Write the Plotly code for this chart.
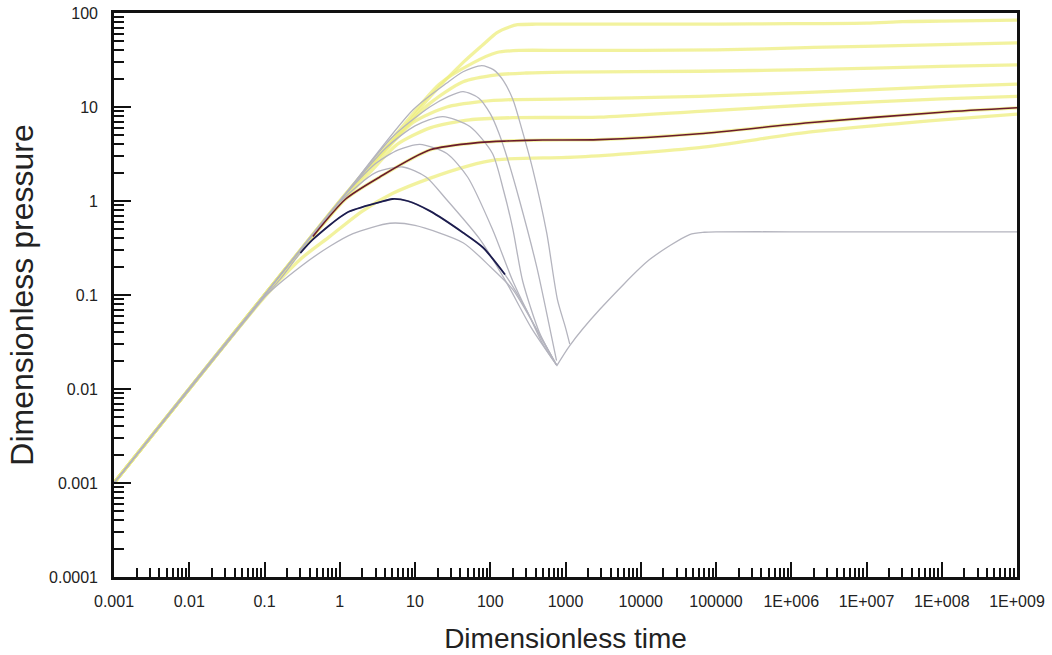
import plotly.graph_objects as go

# ---- pressure curves (yellow family) ----
t_y1 = [0.001, 0.01, 0.1, 1, 2, 5.8, 16, 44, 80, 123, 180, 230, 400, 1e3, 1e4, 1e5, 1e6, 1e7, 3e7, 1e8, 1e9]
p_y1 = [0.001, 0.01, 0.1, 1, 1.9, 4.9, 13, 30, 46, 62, 71, 75, 76, 76, 76, 76, 77, 78, 81, 82, 84]

t_y2 = [0.001, 0.1, 1, 5, 21, 59, 122, 250, 1e3, 1e5, 2e6, 1e8, 1e9]
p_y2 = [0.001, 0.1, 1, 4.6, 17.5, 29.5, 38, 40, 40, 40.5, 43, 46, 48]

t_y3 = [0.001, 0.1, 1, 5, 15.9, 43.6, 122, 300, 1e3, 6e4, 1.7e6, 1e8, 1e9]
p_y3 = [0.001, 0.1, 0.98, 4.3, 11, 18.6, 22, 23, 23.5, 24, 25, 27, 28]

t_y4 = [0.001, 0.1, 1, 3, 9.35, 26.5, 74, 200, 800, 6e4, 1.7e6, 1e8, 1e9]
p_y4 = [0.001, 0.1, 0.95, 2.6, 6.8, 10, 11.4, 12, 12.1, 13, 14.3, 16.5, 17.5]

t_y5 = [0.001, 0.1, 1, 2.5, 5.8, 15.9, 53, 200, 2800, 6e4, 1.7e6, 1e8, 1e9]
p_y5 = [0.001, 0.1, 0.92, 2.0, 4.0, 6.0, 7.3, 7.7, 7.8, 9, 10.5, 12.2, 13]

t_red = [0.001, 0.1, 0.3, 0.44, 1.2, 3.4, 15.9, 74, 166, 500, 2800, 6e4, 1.7e6, 1e8, 1e9]
p_red = [0.001, 0.1, 0.29, 0.42, 1.05, 1.8, 3.5, 4.2, 4.35, 4.45, 4.5, 5.2, 6.8, 8.8, 9.8]

t_y7 = [0.001, 0.1, 0.3, 0.74, 2, 5, 16, 50, 122, 1540, 6e4, 1.7e6, 1e8, 1e9]
p_y7 = [0.001, 0.095, 0.24, 0.42, 0.78, 1.2, 1.75, 2.35, 2.75, 2.95, 3.7, 5.4, 7.3, 8.4]

# ---- derivative curves (grey family) ----
t_g7 = [0.001, 0.1, 1, 9.35, 26.5, 43.6, 77, 110, 150, 200, 260, 366, 562, 780, 1000, 1140]
p_g7 = [0.001, 0.1, 1, 9.3, 18, 23.7, 27.5, 25, 19, 12, 6, 2.2, 0.46, 0.09, 0.045, 0.03]

t_g6 = [0.001, 0.1, 1, 5, 15.7, 28, 43.6, 70, 100, 130, 170, 246, 414, 600, 760]
p_g6 = [0.001, 0.1, 1, 4.8, 10, 13, 14.6, 12.5, 8.5, 5.3, 2.8, 1.0, 0.2, 0.05, 0.02]

t_g5 = [0.001, 0.1, 1, 4, 10, 23.4, 53.6, 107, 150, 200, 270, 450, 760]
p_g5 = [0.001, 0.1, 1, 3.6, 6.3, 7.9, 6.2, 3.2, 1.3, 0.5, 0.14, 0.04, 0.018]

t_g4 = [0.001, 0.1, 1, 3, 6, 11.6, 26.5, 50, 107, 200, 400, 760]
p_g4 = [0.001, 0.1, 1, 2.5, 3.5, 4.0, 3.2, 1.8, 0.5, 0.14, 0.045, 0.018]

t_g3 = [0.001, 0.1, 1, 3, 6.9, 14, 26.4, 73, 166, 350, 760]
p_g3 = [0.001, 0.1, 0.97, 2.0, 2.3, 1.8, 1.03, 0.39, 0.134, 0.045, 0.018]

t_nav = [0.001, 0.1, 0.16, 0.3, 0.44, 1.24, 3.4, 5, 8, 15.9, 43.6, 80, 157, 300, 500, 760]
p_nav = [0.001, 0.095, 0.146, 0.28, 0.39, 0.75, 0.97, 1.05, 1.0, 0.78, 0.46, 0.32, 0.165, 0.07, 0.03, 0.018]

t_g1 = [0.001, 0.1, 0.3, 0.74, 1.5, 4.65, 10, 43.5, 100, 200, 400, 760]
p_g1 = [0.001, 0.095, 0.2, 0.33, 0.45, 0.58, 0.55, 0.36, 0.2, 0.114, 0.045, 0.018]

# late-time common derivative
t_tail = [760, 1140, 2845, 13100, 44600, 7e4, 1e5, 1e6, 1e9]
p_tail = [0.0175, 0.029, 0.07, 0.238, 0.44, 0.465, 0.47, 0.47, 0.47]

# axis labels
x_tick_vals = [1e-3, 1e-2, 1e-1, 1, 10, 100, 1e3, 1e4, 1e5, 1e6, 1e7, 1e8, 1e9]
x_tick_text = ["0.001", "0.01", "0.1", "1", "10", "100", "1000", "10000", "100000",
               "1E+006", "1E+007", "1E+008", "1E+009"]
y_tick_vals = [1e-4, 1e-3, 1e-2, 1e-1, 1, 10, 100]
y_tick_text = ["0.0001", "0.001", "0.01", "0.1", "1", "10", "100"]

YELLOW = "rgba(238,238,125,0.75)"
GREY = "rgb(180,180,190)"

fig = go.Figure()


def add(t, p, color, width, smoothing=0.7):
    fig.add_trace(go.Scatter(x=t, y=p, mode="lines",
                             line=dict(color=color, width=width, shape="spline", smoothing=smoothing),
                             hoverinfo="skip", showlegend=False))


for t, p in [(t_y7, p_y7), (t_red, p_red), (t_y5, p_y5), (t_y4, p_y4),
             (t_y3, p_y3), (t_y2, p_y2), (t_y1, p_y1)]:
    add(t, p, YELLOW, 3.3)

for t, p in [(t_g1, p_g1), (t_nav, p_nav), (t_g3, p_g3), (t_g4, p_g4),
             (t_g5, p_g5), (t_g6, p_g6), (t_g7, p_g7), (t_tail, p_tail)]:
    add(t, p, GREY, 1.3)

# highlighted pair
add(t_red[3:], p_red[3:], "#6a1a2c", 1.6)
add(t_nav[3:13], p_nav[3:13], "#1c1c4e", 1.8)

font = "Liberation Sans, Arial, sans-serif"


def minor_vals(lo, hi):
    return [m * 10.0 ** k for k in range(lo, hi) for m in range(2, 10)]


fig.update_layout(
    width=1052, height=655,
    margin=dict(l=114, r=35, t=13, b=78),
    paper_bgcolor="white", plot_bgcolor="white",
    font=dict(family=font, color="#222"),
    showlegend=False,
)
fig.update_xaxes(
    type="log", range=[-3, 9], autorange=False,
    tickmode="array", tickvals=x_tick_vals, ticktext=x_tick_text,
    ticks="inside", ticklen=15, tickwidth=2, tickcolor="#111",
    minor=dict(tickmode="array", tickvals=minor_vals(-3, 9), ticks="inside",
               ticklen=9, tickwidth=1.6, tickcolor="#111", showgrid=False),
    showgrid=False, zeroline=False,
    showline=True, linewidth=2.8, linecolor="#111", mirror=True,
    tickfont=dict(size=16, color="#222"), ticklabelstandoff=8,
    title=dict(text="Dimensionless time", font=dict(size=28, color="#222"), standoff=20),
    automargin=False,
)
fig.update_yaxes(
    type="log", range=[-4, 2], autorange=False,
    tickmode="array", tickvals=y_tick_vals, ticktext=y_tick_text,
    ticks="inside", ticklen=17, tickwidth=2, tickcolor="#111",
    minor=dict(tickmode="array", tickvals=minor_vals(-4, 2), ticks="inside",
               ticklen=10, tickwidth=1.6, tickcolor="#111", showgrid=False),
    showgrid=False, zeroline=False,
    showline=True, linewidth=2.6, linecolor="#111", mirror=True,
    tickfont=dict(size=16, color="#222"), ticklabelstandoff=10,
    title=dict(text="Dimensionless pressure", font=dict(size=32, color="#222"), standoff=6),
    automargin=False,
)

fig.write_html("out.html")
